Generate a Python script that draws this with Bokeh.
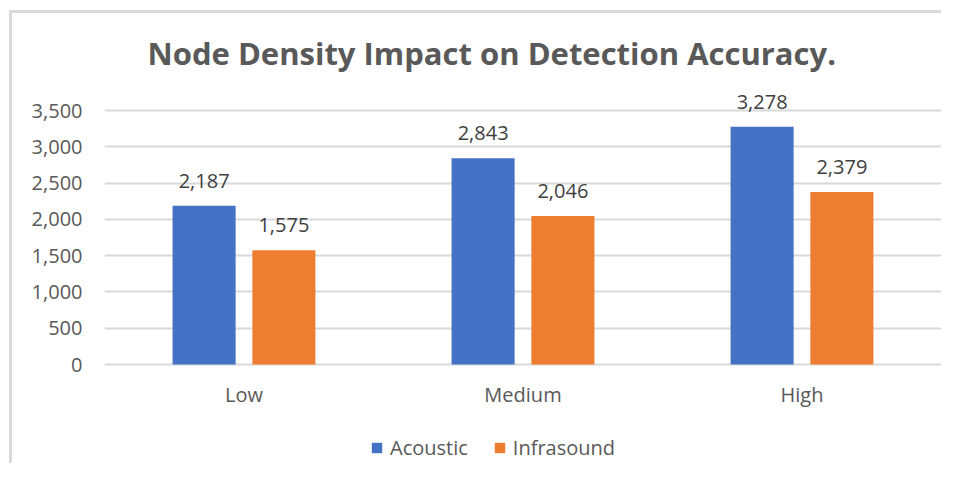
from bokeh.plotting import figure
from bokeh.models import (ColumnDataSource, FactorRange, Range1d, FixedTicker,
                          NumeralTickFormatter, Legend, LegendItem, Title)
from bokeh.transform import dodge
from bokeh.core.properties import value
from bokeh.embed import file_html
from bokeh.resources import INLINE

categories = ["Low", "Medium", "High"]
acoustic = [2187, 2843, 3278]
infrasound = [1575, 2046, 2379]
series_names = ["Acoustic", "Infrasound"]
title_text = "Node Density Impact on Detection Accuracy."
y_ticks = [0, 500, 1000, 1500, 2000, 2500, 3000, 3500]

FONT = "Open Sans"
TEXT_GRAY = "#595959"
BLUE = "#4472C4"
ORANGE = "#ED7D31"

src = ColumnDataSource(dict(
    cat=categories,
    acoustic=acoustic,
    infrasound=infrasound,
    acoustic_lbl=[f"{v:,}" for v in acoustic],
    infrasound_lbl=[f"{v:,}" for v in infrasound],
))

# The frame runs from y=85 to the bottom of the figure so that the labels,
# category names and legend below the zero line are drawn inside it.
p = figure(width=941, height=463, x_range=FactorRange(factors=categories, range_padding=0),
           y_range=Range1d(-1364, 3845), output_backend="svg", toolbar_location=None,
           min_border_left=104, min_border_right=0, min_border_top=85, min_border_bottom=0)
p.outline_line_color = None
p.background_fill_color = "white"
p.border_fill_alpha = 0
p.styles = {
    "background": ("linear-gradient(#D9D9D9,#D9D9D9) 9px 10px / 3px 100% no-repeat, "
                   "linear-gradient(#D9D9D9,#D9D9D9) 9px 10px / 100% 3px no-repeat, white"),
}

t = Title(text=title_text, align="left", offset=43, standoff=23,
          text_font=FONT, text_font_size="31px", text_font_style="bold",
          text_color=TEXT_GRAY)
p.add_layout(t, "above")

bw = 0.226
r1 = p.vbar(x=dodge("cat", -0.143, range=p.x_range), top="acoustic", width=bw, source=src,
            fill_color=BLUE, line_color=None)
r2 = p.vbar(x=dodge("cat", 0.143, range=p.x_range), top="infrasound", width=bw, source=src,
            fill_color=ORANGE, line_color=None)

for col, off in (("acoustic", -0.143), ("infrasound", 0.143)):
    p.text(x=dodge("cat", off, range=p.x_range), y=col, text=col + "_lbl", source=src,
           text_align="center", text_baseline="middle", y_offset=-25,
           text_font=value(FONT), text_font_size="20px", text_color="#404040")

# category names under the zero line
p.text(x="cat", y=0, text="cat", source=src, text_align="center",
       text_baseline="middle", y_offset=30,
       text_font=value(FONT), text_font_size="20px", text_color=TEXT_GRAY)

p.xaxis.visible = False
p.yaxis.ticker = FixedTicker(ticks=y_ticks)
p.yaxis.formatter = NumeralTickFormatter(format="0,0")
ax = p.yaxis[0]
ax.axis_line_color = None
ax.major_tick_line_color = None
ax.minor_tick_line_color = None
ax.major_tick_out = 0
ax.major_tick_in = 0
ax.minor_tick_out = 0
ax.major_label_text_font = FONT
ax.major_label_text_font_size = "20px"
ax.major_label_text_color = TEXT_GRAY
ax.major_label_standoff = 22

p.xgrid.grid_line_color = None
p.ygrid.grid_line_color = "#D9D9D9"
p.ygrid.grid_line_width = 2

legend = Legend(items=[LegendItem(label=series_names[0], renderers=[r1]),
                       LegendItem(label=series_names[1], renderers=[r2])],
                orientation="horizontal", location=(266, 2),
                glyph_width=13, glyph_height=13, label_standoff=7, spacing=25,
                padding=0, margin=0, border_line_color=None, background_fill_alpha=0,
                label_text_font=FONT, label_text_font_size="20px",
                label_text_color=TEXT_GRAY, label_height=20)
p.add_layout(legend, "center")

open("out.html", "w").write(file_html(p, INLINE))
